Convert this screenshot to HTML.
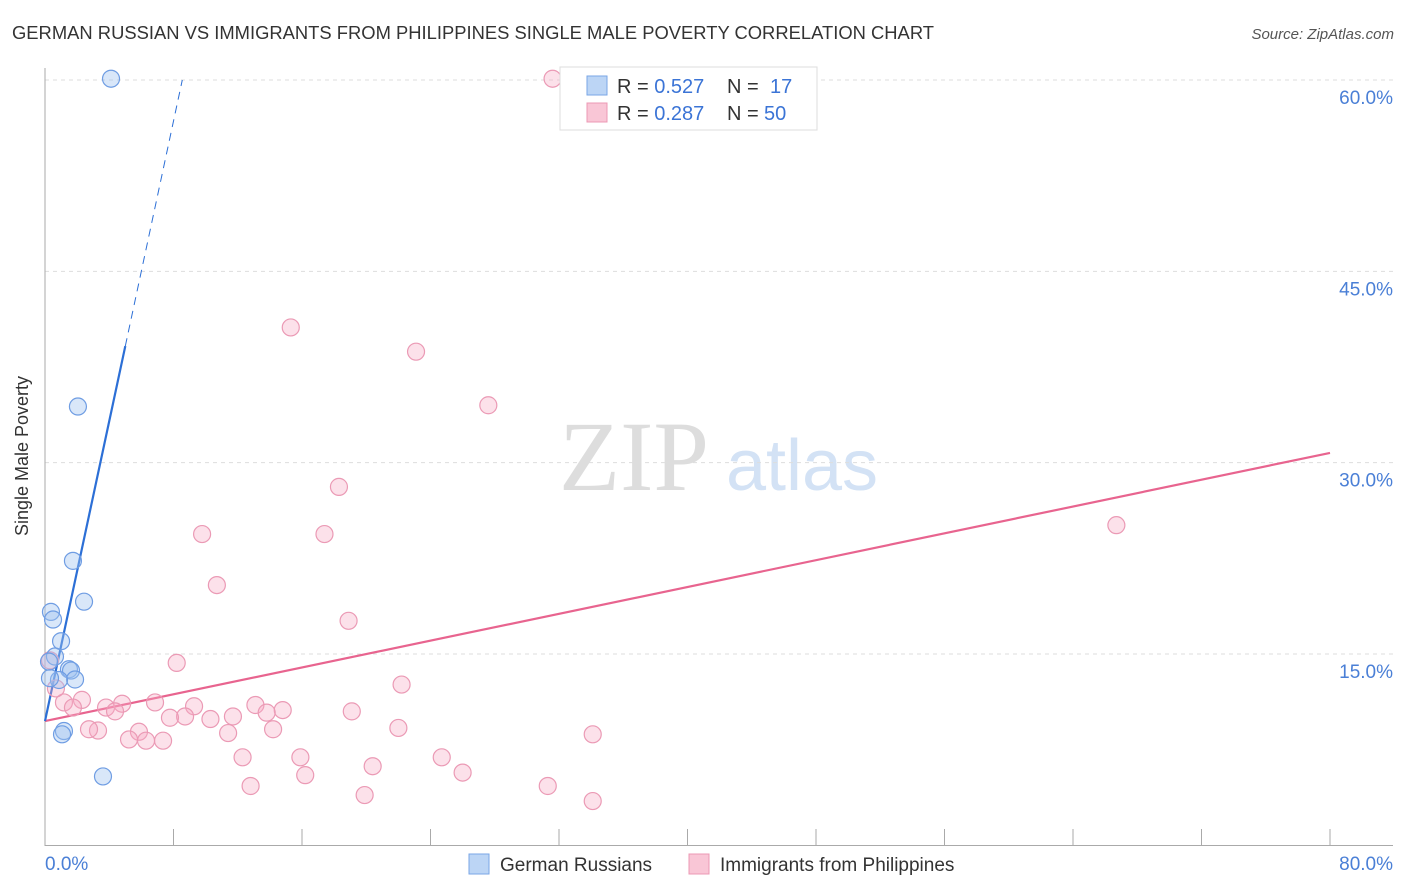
<!DOCTYPE html>
<html><head><meta charset="utf-8"><style>
body{margin:0;background:#fff;font-family:"Liberation Sans",sans-serif;}
svg{display:block}
</style></head><body>
<svg id="c" width="1406" height="892" xmlns="http://www.w3.org/2000/svg">
<text x="12" y="39" font-size="18" fill="#333" textLength="922" lengthAdjust="spacingAndGlyphs">GERMAN RUSSIAN VS IMMIGRANTS FROM PHILIPPINES SINGLE MALE POVERTY CORRELATION CHART</text>
<text x="1394" y="39" font-size="15" fill="#555" font-style="italic" text-anchor="end">Source: ZipAtlas.com</text>
<text x="28" y="456" font-size="18" fill="#333" text-anchor="middle" transform="rotate(-90 28 456)">Single Male Poverty</text>
<g>
<text x="634" y="490" font-size="100" fill="#ddd" font-family="Liberation Serif,serif" text-anchor="middle">ZIP</text>
<text x="802" y="490" font-size="72" fill="#d3e2f5" text-anchor="middle">atlas</text>
</g>
<g id="grid"></g><g id="axes"></g><g id="lines"></g><g id="pts"></g>
<g>
<rect x="560" y="67" width="257" height="63" fill="#fff" stroke="#ddd"/>
<rect x="587" y="76" width="20" height="19" fill="#bcd5f5" stroke="#7aa6e6"/>
<rect x="587" y="103" width="20" height="19" fill="#f9c6d6" stroke="#ec98b4"/>
<text x="617" y="93" font-size="20" fill="#333">R = <tspan fill="#3b74d6">0.527</tspan><tspan x="727">N = </tspan><tspan x="770" fill="#3b74d6">17</tspan></text>
<text x="617" y="120" font-size="20" fill="#333">R = <tspan fill="#3b74d6">0.287</tspan><tspan x="727">N = </tspan><tspan x="764" fill="#3b74d6">50</tspan></text>
</g>
<g>
<rect x="469" y="854" width="20" height="20" fill="#bcd5f5" stroke="#7aa6e6"/>
<text x="500" y="871" font-size="19" fill="#333">German Russians</text>
<rect x="689" y="854" width="20" height="20" fill="#f9c6d6" stroke="#ec98b4"/>
<text x="720" y="871" font-size="19" fill="#333">Immigrants from Philippines</text>
</g>
</svg>
<script>
const yTicks=[15,30,45,60];
const yTickLabels=["15.0%","30.0%","45.0%","60.0%"];
const xEndLabels=["0.0%","80.0%"];
const blueX=[4.11,2.05,1.74,2.43,0.37,0.5,1.0,0.62,0.25,1.49,1.62,1.87,0.87,1.18,1.06,3.61,0.31];
const blueY=[60.1,34.4,22.3,19.1,18.3,17.7,16.0,14.8,14.4,13.8,13.7,13.0,12.96,8.96,8.7,5.4,13.1];
const pinkX=[31.6,15.3,23.1,27.6,18.3,66.7,9.78,17.4,10.7,18.9,8.2,22.2,2.3,1.18,4.8,6.85,3.8,4.36,1.74,13.1,14.8,9.28,8.72,7.78,11.7,10.3,13.8,19.1,3.3,2.74,5.85,22.0,14.2,11.4,5.23,6.29,7.35,34.1,12.3,15.9,24.7,20.4,16.2,26.0,12.8,31.3,19.9,34.1,0.68,0.31];
const pinkY=[60.1,40.6,38.7,34.5,28.1,25.1,24.4,24.4,20.4,17.6,14.3,12.6,11.4,11.2,11.1,11.2,10.8,10.5,10.8,11.0,10.6,10.9,10.1,10.0,10.1,9.9,10.4,10.5,9.0,9.1,8.9,9.2,9.1,8.8,8.3,8.2,8.2,8.7,6.9,6.9,6.9,6.2,5.5,5.7,4.65,4.65,3.94,3.47,12.3,14.5];
const blueFit=[9.74,5.88];
const pinkFit=[9.74,0.2628];
const NS="http://www.w3.org/2000/svg";
const X0=45,X1=1330,Y0=845.3,Y60=80;
const sx=v=>X0+v*(X1-X0)/80;
const sy=v=>Y0-v*(Y0-Y60)/60;
function mk(tag,attrs,parent){const e=document.createElementNS(NS,tag);for(const k in attrs)e.setAttribute(k,attrs[k]);document.getElementById(parent).appendChild(e);return e;}
yTicks.forEach((t,i)=>{
 const g=mk('line',{x1:X0,x2:1393,y1:sy(t),y2:sy(t),stroke:'#ddd','stroke-dasharray':'4,4'},'grid');
 
 
 const l=mk('text',{x:1393,y:sy(t)+24,'font-size':19,fill:'#4a7fd6','text-anchor':'end'},'grid');
 l.textContent=yTickLabels[i];
 
 
});
mk('line',{x1:X0,x2:X0,y1:68,y2:846,stroke:'#aaa'},'axes');
mk('line',{x1:X0,x2:1393,y1:845.5,y2:845.5,stroke:'#aaa'},'axes');
for(let i=0;i<=10;i++){const t=mk('line',{x1:sx(i*8),x2:sx(i*8),y1:829,y2:845,stroke:'#aaa'},'axes');
 
 }
const xl0=mk('text',{x:45,y:870,'font-size':19,fill:'#4a7fd6'},'axes');xl0.textContent=xEndLabels[0];


const xl1=mk('text',{x:1393,y:870,'font-size':19,fill:'#4a7fd6','text-anchor':'end'},'axes');xl1.textContent=xEndLabels[1];


function drawPts(xs,ys,fill,stroke,name){xs.forEach((x,i)=>{const c=mk('circle',{cx:sx(x),cy:sy(ys[i]),r:8.5,fill:fill,stroke:stroke,'stroke-width':1.2},'pts');
 
 });}
drawPts(pinkX,pinkY,'rgba(246,170,195,0.35)','#eb9ab5','philippines-point');
drawPts(blueX,blueY,'rgba(160,195,240,0.4)','#6f9de3','german-russian-point');
const pl=mk('line',{x1:sx(0),y1:sy(pinkFit[0]),x2:sx(80),y2:sy(pinkFit[0]+pinkFit[1]*80),stroke:'#e8648f','stroke-width':2.2},'lines');


const bl=mk('line',{x1:sx(0),y1:sy(blueFit[0]),x2:sx(5),y2:sy(blueFit[0]+blueFit[1]*5),stroke:'#2c6fd6','stroke-width':2.2},'lines');


const xe=(60-blueFit[0])/blueFit[1];
const bd=mk('line',{x1:sx(5),y1:sy(blueFit[0]+blueFit[1]*5),x2:sx(xe),y2:sy(60),stroke:'#2c6fd6','stroke-width':1,'stroke-dasharray':'8,6'},'lines');


</script>
</body></html>
